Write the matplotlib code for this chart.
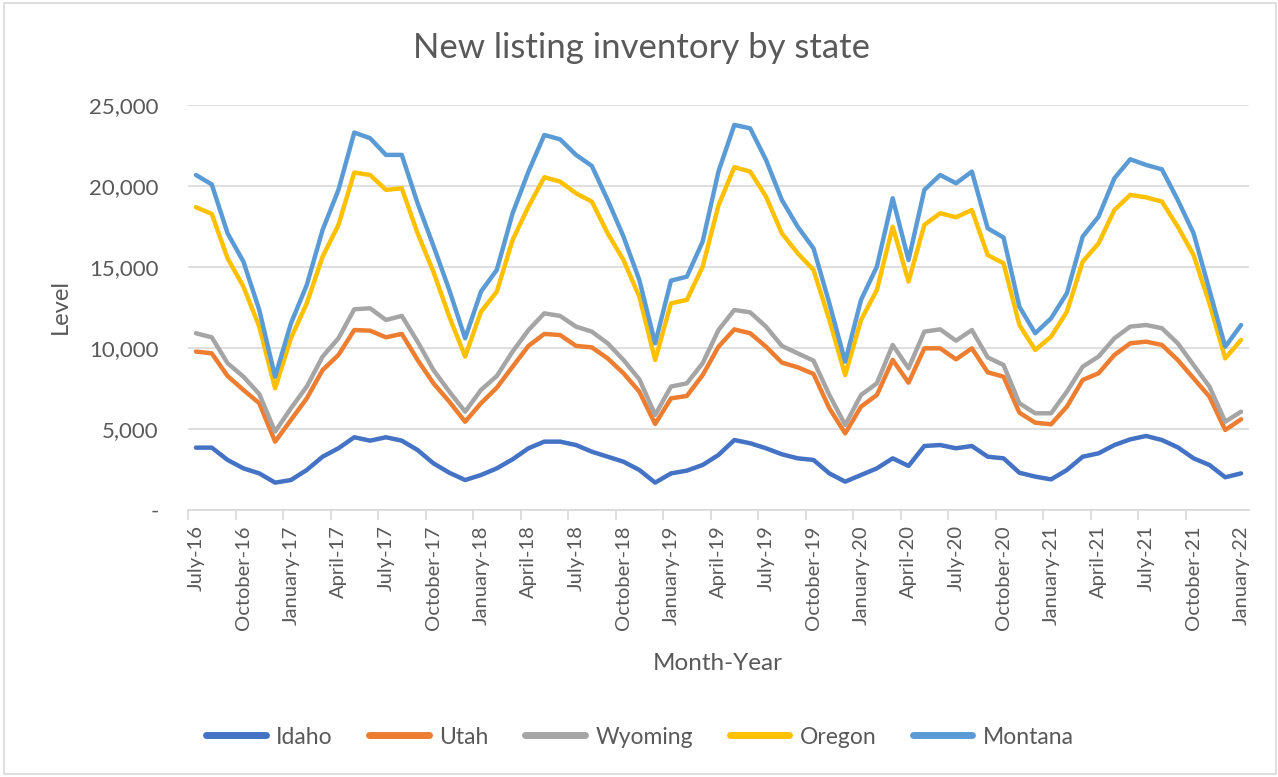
import matplotlib
matplotlib.use("Agg")
import matplotlib.pyplot as plt
from matplotlib.patches import Rectangle
from matplotlib.ticker import FuncFormatter

# ---------------- data ----------------
tick_labels = ["July-16", "October-16", "January-17", "April-17", "July-17", "October-17",
               "January-18", "April-18", "July-18", "October-18", "January-19", "April-19",
               "July-19", "October-19", "January-20", "April-20", "July-20", "October-20",
               "January-21", "April-21", "July-21", "October-21", "January-22"]

idaho = [3850, 3850, 3090, 2570, 2260, 1690, 1850, 2470, 3290, 3810,
         4490, 4280, 4490, 4280, 3700, 2880, 2300, 1850, 2160, 2570,
         3130, 3810, 4220, 4220, 4010, 3600, 3290, 2980, 2470, 1690,
         2260, 2430, 2780, 3400, 4320, 4120, 3810, 3440, 3190, 3090,
         2260, 1750, 2160, 2570, 3190, 2720, 3950, 4010, 3810, 3950,
         3290, 3190, 2300, 2060, 1890, 2470, 3290, 3500, 4010, 4360,
         4570, 4320, 3870, 3190, 2780, 2020, 2260]

utah = [9780, 9670, 8270, 7410, 6590, 4220, 5560, 6890, 8640, 9570,
        11110, 11070, 10660, 10870, 9260, 7820, 6690, 5450, 6590, 7550,
        8850, 10130, 10870, 10800, 10130, 10040, 9360, 8440, 7310, 5310,
        6890, 7040, 8330, 10080, 11150, 10910, 10080, 9100, 8810, 8400,
        6280, 4730, 6380, 7100, 9260, 7860, 9980, 9980, 9300, 9980,
        8500, 8230, 6010, 5390, 5290, 6380, 8030, 8440, 9570, 10290,
        10390, 10190, 9260, 8130, 7000, 4940, 5600]

wyoming = [10910, 10660, 9060, 8230, 7160, 4840, 6280, 7620, 9470, 10600,
           12390, 12450, 11730, 11980, 10390, 8640, 7310, 6070, 7410, 8270,
           9780, 11110, 12140, 11980, 11320, 11010, 10290, 9260, 8070, 5870,
           7620, 7820, 9060, 11110, 12350, 12200, 11320, 10130, 9670, 9220,
           7100, 5250, 7100, 7820, 10190, 8750, 11010, 11150, 10450, 11110,
           9420, 8950, 6590, 5970, 5970, 7310, 8850, 9470, 10600, 11320,
           11420, 11220, 10290, 8950, 7620, 5450, 6070]

oregon = [18690, 18280, 15540, 13790, 11320, 7510, 10600, 12760, 15640, 17600,
          20830, 20680, 19760, 19860, 17080, 14700, 11940, 9470, 12240, 13480,
          16670, 18730, 20540, 20270, 19550, 19040, 17080, 15430, 13170, 9260,
          12760, 12970, 15020, 18800, 21160, 20890, 19350, 17080, 15850, 14820,
          11730, 8330, 11730, 13580, 17490, 14100, 17600, 18320, 18070, 18520,
          15740, 15230, 11420, 9880, 10700, 12240, 15330, 16460, 18520, 19450,
          19300, 19040, 17490, 15740, 12760, 9360, 10500]

montana = [20680, 20100, 17080, 15330, 12350, 8230, 11520, 13890, 17290, 19760,
           23300, 22950, 21920, 21920, 18930, 16300, 13580, 10600, 13480, 14820,
           18320, 20890, 23150, 22880, 21920, 21240, 19140, 16880, 14200, 10290,
           14160, 14400, 16570, 20900, 23770, 23560, 21610, 19140, 17490, 16150,
           12760, 9160, 12970, 15020, 19240, 15430, 19760, 20680, 20170, 20890,
           17390, 16820, 12550, 10910, 11830, 13380, 16880, 18110, 20480, 21650,
           21300, 21030, 19140, 17080, 13580, 10080, 11420]

series_names = ["Idaho", "Utah", "Wyoming", "Oregon", "Montana"]
series_values = [idaho, utah, wyoming, oregon, montana]
colors = ["#4472C4", "#ED7D31", "#A5A5A5", "#FFC000", "#5B9BD5"]

# ---------------- figure ----------------
FONT = ["Lato", "DejaVu Sans"]
plt.rcParams["font.family"] = FONT
TXT = "#595959"
GRID = "#D9D9D9"

W, H = 1278, 777
fig = plt.figure(figsize=(W / 100, H / 100), dpi=100)
ax = fig.add_axes([188 / W, 1 - 510 / H, (1249 - 188) / W, (510 - 105) / H])

n = len(idaho)
x = list(range(n))
for name, vals, c in zip(series_names, series_values, colors):
    ax.plot(x, vals, color=c, lw=3.2, label=name, solid_joinstyle="round",
            solid_capstyle="round", zorder=3)

ax.set_xlim(-0.5, n - 0.5)
ax.set_ylim(0, 25000)
ax.set_yticks(range(0, 25001, 5000))
ax.yaxis.set_major_formatter(FuncFormatter(lambda v, p: "-" if v == 0 else f"{v:,.0f}"))
ax.grid(axis="y", color=GRID, lw=1.2, zorder=0)
ax.set_axisbelow(True)
for s in ["top", "right", "left"]:
    ax.spines[s].set_visible(False)
ax.spines["bottom"].set_color(GRID)
ax.spines["bottom"].set_linewidth(1.2)

ax.set_xticks(range(0, n, 3))
ax.set_xticklabels(tick_labels, rotation=90, fontsize=14.5, color=TXT)
ax.set_xticks([i - 0.5 for i in range(0, n - 1, 3)], minor=True)
ax.tick_params(axis="x", which="major", length=0, pad=11)
ax.tick_params(axis="x", which="minor", length=7, color=GRID, width=1.2)
ax.tick_params(axis="y", length=0, pad=21, labelsize=16, labelcolor=TXT)

fig.text(0.502, 1 - 48 / H, "New listing inventory by state", ha="center", va="center",
         fontsize=25, color=TXT)
fig.text(60 / W, 1 - 307 / H, "Level", rotation=90, ha="center", va="center",
         fontsize=17, color=TXT)
fig.text(718 / W, 1 - 664 / H, "Month-Year", ha="center", va="center",
         fontsize=17.5, color=TXT)

leg = fig.legend(loc="center", bbox_to_anchor=(640 / W, 1 - 737 / H), ncol=5,
                 frameon=False, fontsize=16.5, handlelength=2.6, columnspacing=1.6,
                 handletextpad=0.45)
for t in leg.get_texts():
    t.set_color(TXT)
for l in leg.get_lines():
    l.set_linewidth(5)
    l.set_solid_capstyle("round")

fig.patches.append(Rectangle((4 / W, 3 / H), (1276 - 4) / W, (774 - 3) / H,
                             transform=fig.transFigure, fill=False, edgecolor=GRID, lw=1.2))

fig.savefig("out.png", dpi=100)
